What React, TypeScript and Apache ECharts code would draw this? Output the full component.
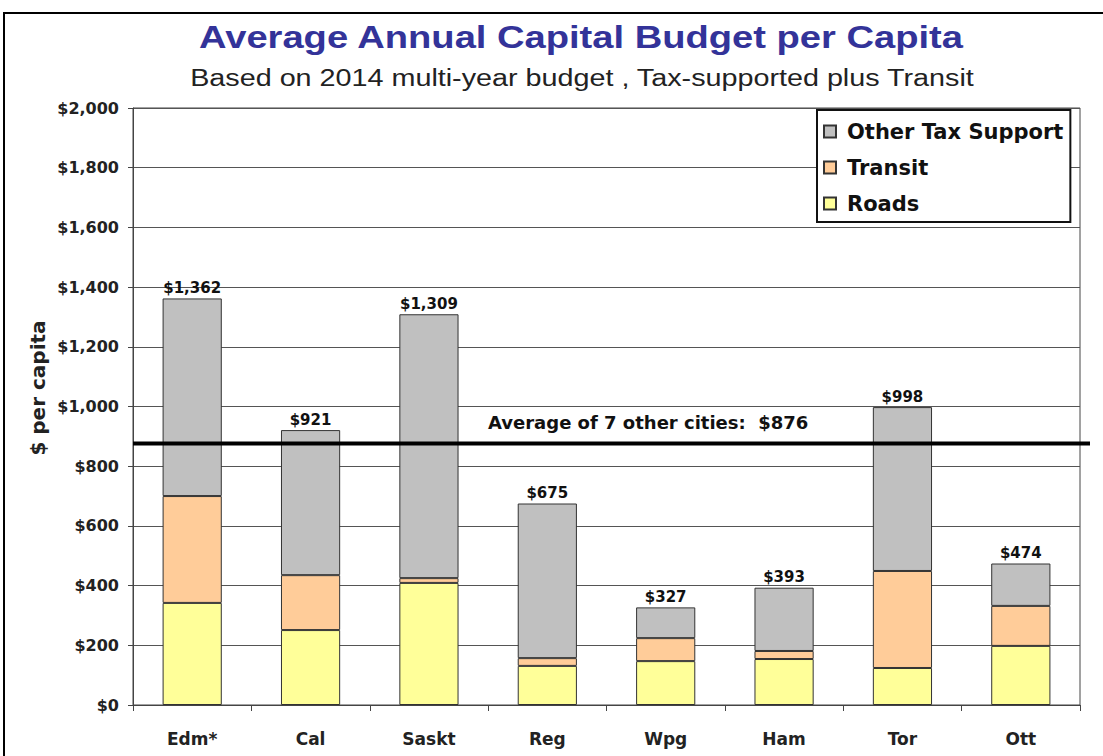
import React, { useEffect, useRef } from "react";
import * as echarts from "echarts";

const categories = ["Edm*", "Cal", "Saskt", "Reg", "Wpg", "Ham", "Tor", "Ott"];
const roads = [342, 251, 409, 131, 147, 154, 124, 198];
const transit = [358, 184, 16, 26, 77, 27, 325, 134];
const otherTax = [662, 486, 884, 518, 103, 212, 549, 142];
const totals = [1362, 921, 1309, 675, 327, 393, 998, 474];
const averageValue = 876;
const averageLabel = "Average of 7 other cities:  $876";
const titleText = "Average Annual Capital Budget per Capita";
const subtitleText = "Based on 2014 multi-year budget , Tax-supported plus Transit";
const yAxisTitle = "$ per capita";

const FONT = "'DejaVu Sans', Arial, sans-serif";
const ARIAL = "'Liberation Sans', Arial, sans-serif";
const fmt = (v: number) => "$" + v.toLocaleString("en-US");

export default function App() {
  const ref = useRef<HTMLDivElement>(null);
  useEffect(() => {
    if (!ref.current) return;
    const chart = echarts.init(ref.current, undefined, { renderer: "svg" });
    const barCommon = {
      type: "bar" as const,
      stack: "total",
      barWidth: "50%",
      itemStyle: { borderColor: "#333", borderWidth: 1 },
    };
    chart.setOption({
      animation: false,
      backgroundColor: "#fff",
      legend: {
        orient: "vertical",
        left: 817,
        top: 110,
        width: 250,
        padding: [11, 7, 8, 6],
        backgroundColor: "#fff",
        borderColor: "#111",
        borderWidth: 2,
        itemWidth: 12,
        itemHeight: 12,
        itemGap: 15,
        icon: "rect",
        data: ["Other Tax Support", "Transit", "Roads"],
        textStyle: { fontFamily: FONT, fontSize: 21, fontWeight: "bold", color: "#111", padding: [0, 0, 0, 6] },
      },
      grid: { left: 133, right: 23, top: 108, bottom: 51, show: true, borderColor: "#444", borderWidth: 1 },
      xAxis: {
        type: "category",
        data: categories,
        axisLine: { lineStyle: { color: "#444", width: 1 } },
        axisTick: { show: true, length: 6, lineStyle: { color: "#444" } },
        axisLabel: { fontFamily: FONT, fontSize: 17, fontWeight: "bold", color: "#222", margin: 25 },
      },
      yAxis: {
        type: "value",
        min: 0,
        max: 2000,
        interval: 200,
        axisLine: { show: true, lineStyle: { color: "#444" } },
        axisTick: { show: true, length: 5, lineStyle: { color: "#444" } },
        splitLine: { lineStyle: { color: "#555", width: 1 } },
        axisLabel: {
          fontFamily: FONT,
          fontSize: 16,
          fontWeight: "bold",
          color: "#222",
          margin: 14,
          formatter: (v: number) => fmt(v),
        },
      },
      series: [
        { ...barCommon, name: "Roads", data: roads, itemStyle: { ...barCommon.itemStyle, color: "#FFFF99" } },
        { ...barCommon, name: "Transit", data: transit, itemStyle: { ...barCommon.itemStyle, color: "#FFCC99" } },
        {
          ...barCommon,
          name: "Other Tax Support",
          data: otherTax,
          itemStyle: { ...barCommon.itemStyle, color: "#C0C0C0" },
          label: {
            show: true,
            position: "top",
            distance: 3,
            fontFamily: FONT,
            fontSize: 15,
            fontWeight: "bold",
            color: "#111",
            formatter: (p: any) => fmt(totals[p.dataIndex]),
          },
        },
      ],
    });
    const y = chart.convertToPixel({ yAxisIndex: 0 }, averageValue) as number;
    chart.setOption({
      graphic: [
        {
          type: "text",
          x: 581,
          y: 37,
          scaleX: 1.23,
          style: {
            text: titleText,
            fontFamily: ARIAL,
            fontSize: 31,
            fontWeight: "bold",
            fill: "#333399",
            align: "center",
            verticalAlign: "middle",
          },
        },
        {
          type: "text",
          x: 582,
          y: 78,
          scaleX: 1.25,
          style: {
            text: subtitleText,
            fontFamily: ARIAL,
            fontSize: 23,
            fill: "#222",
            align: "center",
            verticalAlign: "middle",
          },
        },
        {
          type: "line",
          shape: { x1: 133, y1: y, x2: 1090, y2: y },
          style: { stroke: "#000", lineWidth: 4 },
          z: 100,
        },
        {
          type: "text",
          x: 488,
          y: y - 30,
          style: { text: averageLabel, fontFamily: FONT, fontSize: 18, fontWeight: "bold", fill: "#111" },
          z: 100,
        },
        {
          type: "text",
          x: 38,
          y: 388,
          rotation: Math.PI / 2,
          style: {
            text: yAxisTitle,
            fontFamily: FONT,
            fontSize: 20,
            fontWeight: "bold",
            fill: "#222",
            align: "center",
            verticalAlign: "middle",
          },
        },
        {
          type: "rect",
          shape: { x: 4, y: 13, width: 1200, height: 800 },
          style: { fill: "none", stroke: "#000", lineWidth: 2 },
          silent: true,
        },
      ],
    });
    return () => chart.dispose();
  }, []);
  return <div ref={ref} style={{ width: 1103, height: 756, position: "absolute", left: 0, top: 0 }} />;
}
